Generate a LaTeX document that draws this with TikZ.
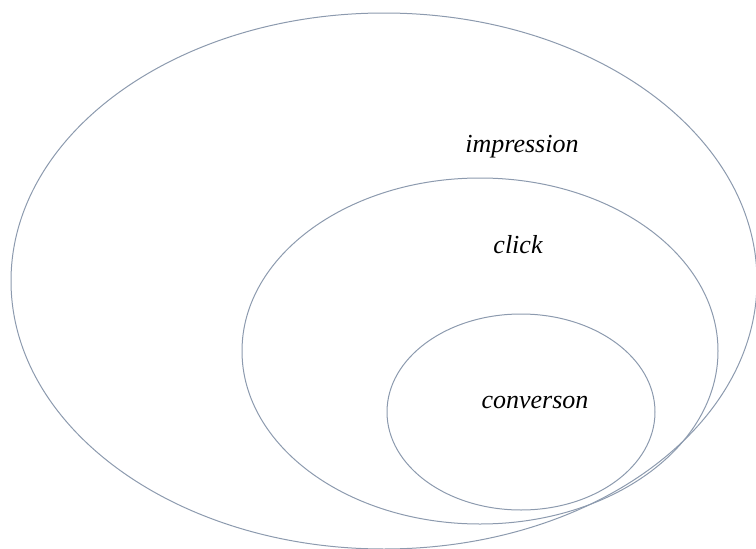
\documentclass[tikz,border=0pt]{standalone}
\usepackage{fontspec}
\setmainfont{Liberation Serif}
\definecolor{rim}{HTML}{8C9AAE}
\tikzset{
  funnel/.style = {draw=rim, line width=1pt},
  stage/.style = {font=\fontsize{26}{30}\selectfont\itshape, inner sep=0pt, anchor=base}
}

\begin{document}
\begin{tikzpicture}[x=1pt,y=-1pt]
  \useasboundingbox (0,0) rectangle (756,549);
  % 
  \draw[funnel] (384,281) coordinate (I) ellipse [x radius=373, y radius=268];
  \draw[funnel] (480,351) coordinate (C) ellipse [x radius=238, y radius=173];
  \draw[funnel] (521,412) coordinate (V) ellipse [x radius=134, y radius=98];
  % 
  \node[stage] (impr) at (522,152) {impression};
  \node[stage] (clk) at (518,253) {click};
  \node[stage] (conv) at (535,408) {converson};
\end{tikzpicture}
\end{document}
